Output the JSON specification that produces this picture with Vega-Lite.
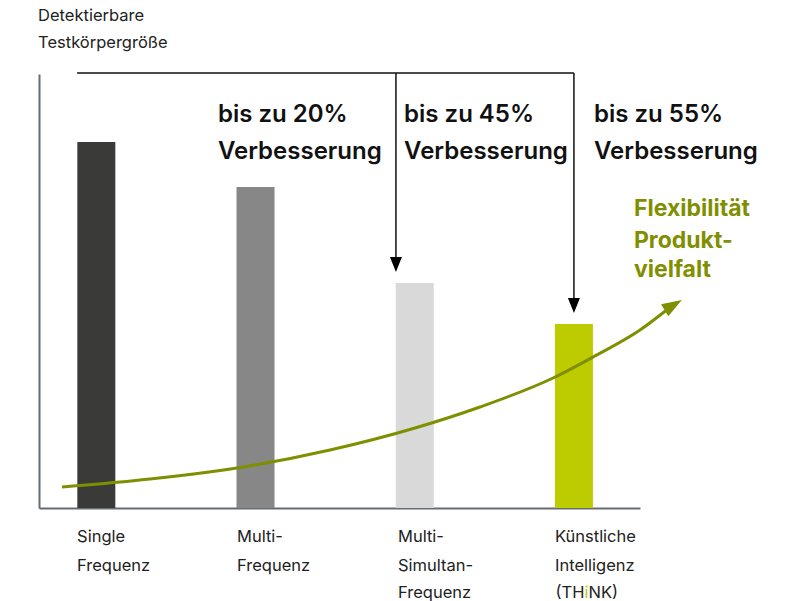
{
  "$schema": "https://vega.github.io/schema/vega-lite/v6.json",
  "autosize": {"type": "none"},
  "width": 601,
  "height": 434,
  "padding": {"left": 39, "top": 74, "right": 148, "bottom": 93},
  "background": "white",
  "config": {
    "view": {"stroke": null},
    "font": "Inter",
    "axis": {"domain": true, "domainColor": "#676d71", "domainWidth": 2, "ticks": false, "labels": false, "grid": false, "title": null}
  },
  "datasets": {
    "balken": [
      {"kategorie": "Single Frequenz", "pos": 1, "groesse": 100},
      {"kategorie": "Multi-Frequenz", "pos": 2, "groesse": 87.7},
      {"kategorie": "Multi-Simultan-Frequenz", "pos": 3, "groesse": 61.5},
      {"kategorie": "Künstliche Intelligenz (THiNK)", "pos": 4, "groesse": 50.3}
    ],
    "klammer": [
      {"x": 0.879, "x2": 4.0, "y": 118.9, "y2": 118.9},
      {"x": 2.882, "x2": 2.882, "y": 118.9, "y2": 66.5},
      {"x": 4.0, "x2": 4.0, "y": 118.9, "y2": 55.3}
    ],
    "pfeilspitzen": [
      {"x": 2.882, "y": 66.54},
      {"x": 4.0, "y": 55.34}
    ],
    "kurve": [
      {"x": 0.7845, "y": 5.74},
      {"x": 1.337, "y": 7.92},
      {"x": 1.997, "y": 11.75},
      {"x": 2.468, "y": 15.85},
      {"x": 3.002, "y": 21.86},
      {"x": 3.41, "y": 27.6},
      {"x": 3.869, "y": 35.52},
      {"x": 4.12, "y": 41.26},
      {"x": 4.415, "y": 48.64},
      {"x": 4.622, "y": 55.47}
    ],
    "kurvenspitze": [{"x": 4.624, "y": 55.42}],
    "titel": [
      {"x": 0.634, "y": 134.45, "text": "Detektierbare"},
      {"x": 0.634, "y": 127.07, "text": "Testkörpergröße"}
    ],
    "verbesserung": [
      {"x": 1.764, "y": 107.5, "text": "bis zu 20%"},
      {"x": 1.764, "y": 97.28, "text": "Verbesserung"},
      {"x": 2.933, "y": 107.5, "text": "bis zu 45%"},
      {"x": 2.933, "y": 97.28, "text": "Verbesserung"},
      {"x": 4.126, "y": 107.5, "text": "bis zu 55%"},
      {"x": 4.126, "y": 97.28, "text": "Verbesserung"}
    ],
    "flex": [
      {"x": 4.377, "y": 81.71, "text": "Flexibilität"},
      {"x": 4.377, "y": 72.96, "text": "Produkt-"},
      {"x": 4.377, "y": 65.04, "text": "vielfalt"}
    ],
    "kategorien": [
      {"x": 0.879, "y": -7.92, "text": "Single"},
      {"x": 0.879, "y": -15.85, "text": "Frequenz"},
      {"x": 1.884, "y": -7.92, "text": "Multi-"},
      {"x": 1.884, "y": -15.85, "text": "Frequenz"},
      {"x": 2.895, "y": -7.92, "text": "Multi-"},
      {"x": 2.895, "y": -15.85, "text": "Simultan-"},
      {"x": 2.895, "y": -23.23, "text": "Frequenz"},
      {"x": 3.881, "y": -7.92, "text": "Künstliche"},
      {"x": 3.881, "y": -15.85, "text": "Intelligenz"}
    ],
    "think_a": [{"x": 4.0665, "y": -23.23, "text": "(TH"}],
    "think_i": [{"x": 4.0791, "y": -23.23, "text": "i"}],
    "think_b": [{"x": 4.0916, "y": -23.23, "text": "NK)"}]
  },
  "layer": [
    {
      "data": {"name": "balken"},
      "mark": {"type": "bar", "size": 38},
      "encoding": {
        "x": {"field": "pos", "type": "quantitative", "scale": {"domain": [0.64, 4.415], "nice": false, "zero": false, "padding": 0}, "axis": {"orient": "bottom"}},
        "y": {"field": "groesse", "type": "quantitative", "scale": {"domain": [0, 118.6], "nice": false, "padding": 0}, "axis": {"orient": "left"}},
        "color": {"field": "kategorie", "type": "nominal", "legend": null,
          "scale": {"domain": ["Single Frequenz", "Multi-Frequenz", "Multi-Simultan-Frequenz", "Künstliche Intelligenz (THiNK)"],
                    "range": ["#3a3a38", "#878787", "#d9d9d9", "#bdcc00"]}}
      }
    },
    {
      "data": {"name": "klammer"},
      "mark": {"type": "rule", "color": "#111111", "strokeWidth": 1.5},
      "encoding": {
        "x": {"field": "x", "type": "quantitative"},
        "x2": {"field": "x2"},
        "y": {"field": "y", "type": "quantitative"},
        "y2": {"field": "y2"}
      }
    },
    {
      "data": {"name": "pfeilspitzen"},
      "mark": {"type": "point", "filled": true, "color": "#000000", "opacity": 1, "shape": "M-0.8,-1L0.8,-1L0,1Z", "size": 225},
      "encoding": {
        "x": {"field": "x", "type": "quantitative"},
        "y": {"field": "y", "type": "quantitative"}
      }
    },
    {
      "data": {"name": "kurve"},
      "mark": {"type": "line", "color": "#7f8f00", "strokeWidth": 3, "interpolate": "monotone"},
      "encoding": {
        "x": {"field": "x", "type": "quantitative"},
        "y": {"field": "y", "type": "quantitative"}
      }
    },
    {
      "data": {"name": "kurvenspitze"},
      "mark": {"type": "point", "filled": true, "color": "#7f8f00", "opacity": 1, "shape": "M-1,-0.7L1,0L-1,0.7Z", "size": 400, "angle": -31},
      "encoding": {
        "x": {"field": "x", "type": "quantitative"},
        "y": {"field": "y", "type": "quantitative"}
      }
    },
    {
      "data": {"name": "titel"},
      "mark": {"type": "text", "align": "left", "baseline": "middle", "fontSize": 16.5, "color": "#222222"},
      "encoding": {
        "x": {"field": "x", "type": "quantitative"},
        "y": {"field": "y", "type": "quantitative"},
        "text": {"field": "text"}
      }
    },
    {
      "data": {"name": "verbesserung"},
      "mark": {"type": "text", "align": "left", "baseline": "middle", "fontSize": 24, "fontWeight": 600, "color": "#111111"},
      "encoding": {
        "x": {"field": "x", "type": "quantitative"},
        "y": {"field": "y", "type": "quantitative"},
        "text": {"field": "text"}
      }
    },
    {
      "data": {"name": "flex"},
      "mark": {"type": "text", "align": "left", "baseline": "middle", "fontSize": 23, "fontWeight": 700, "color": "#7f8f00"},
      "encoding": {
        "x": {"field": "x", "type": "quantitative"},
        "y": {"field": "y", "type": "quantitative"},
        "text": {"field": "text"}
      }
    },
    {
      "data": {"name": "kategorien"},
      "mark": {"type": "text", "align": "left", "baseline": "middle", "fontSize": 16.5, "color": "#222222"},
      "encoding": {
        "x": {"field": "x", "type": "quantitative"},
        "y": {"field": "y", "type": "quantitative"},
        "text": {"field": "text"}
      }
    },
    {
      "data": {"name": "think_a"},
      "mark": {"type": "text", "align": "right", "baseline": "middle", "fontSize": 16.5, "color": "#222222"},
      "encoding": {
        "x": {"field": "x", "type": "quantitative"},
        "y": {"field": "y", "type": "quantitative"},
        "text": {"field": "text"}
      }
    },
    {
      "data": {"name": "think_i"},
      "mark": {"type": "text", "align": "center", "baseline": "middle", "fontSize": 16.5, "color": "#bdcc00"},
      "encoding": {
        "x": {"field": "x", "type": "quantitative"},
        "y": {"field": "y", "type": "quantitative"},
        "text": {"field": "text"}
      }
    },
    {
      "data": {"name": "think_b"},
      "mark": {"type": "text", "align": "left", "baseline": "middle", "fontSize": 16.5, "color": "#222222"},
      "encoding": {
        "x": {"field": "x", "type": "quantitative"},
        "y": {"field": "y", "type": "quantitative"},
        "text": {"field": "text"}
      }
    }
  ]
}
